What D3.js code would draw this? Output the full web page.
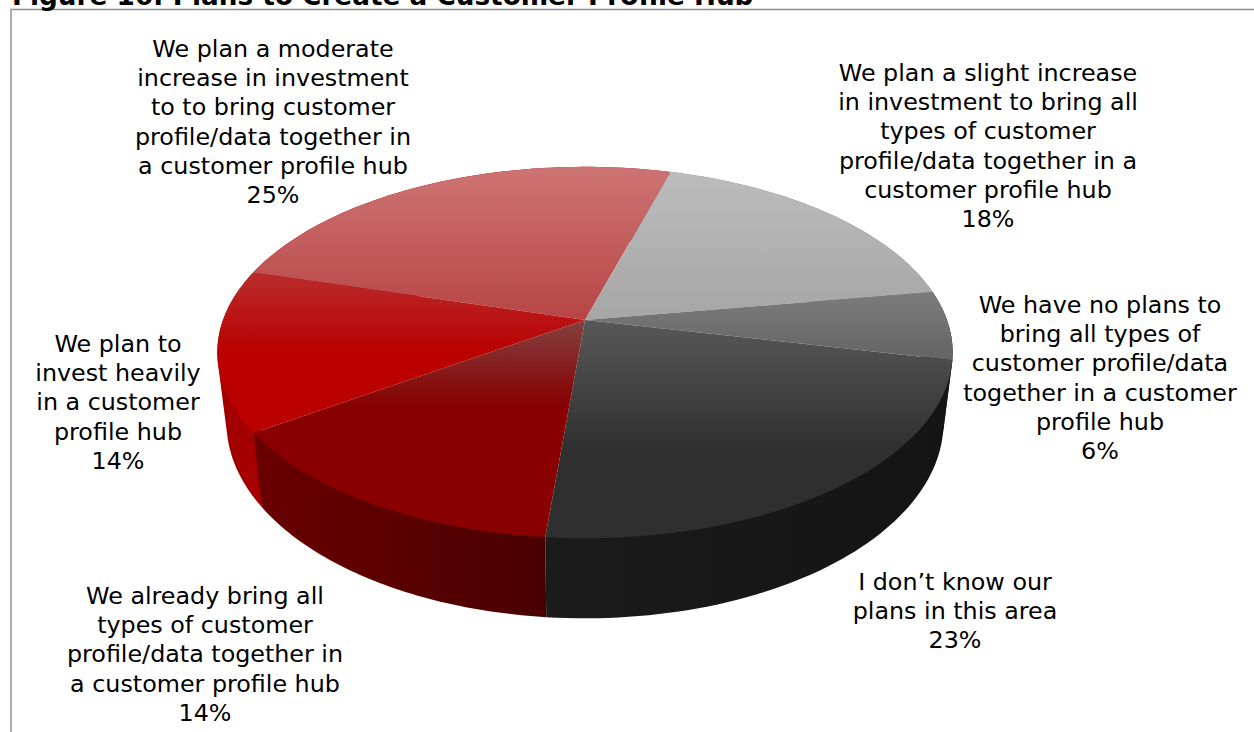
<!DOCTYPE html>
<html>
<head>
<meta charset="utf-8">
<script src="https://cdn.jsdelivr.net/npm/d3@7"></script>
<style>
  html, body { margin: 0; padding: 0; background: #fff; overflow: hidden; }
  text { font-family: "DejaVu Sans", Verdana, sans-serif; fill: #000; }
</style>
</head>
<body>
<svg id="chart" width="1254" height="732"></svg>
<script>
const titleText = "Figure 16: Plans to Create a Customer Profile Hub";
const sliceNames = ["moderate", "slight", "none", "unknown", "already", "heavy"];
const sliceValues = [25, 18, 6, 23, 14, 14];
const sliceLabels = [
  ["We plan a moderate", "increase in investment", "to to bring customer", "profile/data together in", "a customer profile hub", "25%"],
  ["We plan a slight increase", "in investment to bring all", "types of customer", "profile/data together in a", "customer profile hub", "18%"],
  ["We have no plans to", "bring all types of", "customer profile/data", "together in a customer", "profile hub", "6%"],
  ["I don\u2019t know our", "plans in this area", "23%"],
  ["We already bring all", "types of customer", "profile/data together in", "a customer profile hub", "14%"],
  ["We plan to", "invest heavily", "in a customer", "profile hub", "14%"]
];
const labelCentres = [[273, 57], [988, 81], [1100, 313], [955, 590], [205, 604], [118, 352]];
const topColours = [
  [["0%", "#cd7474"], ["100%", "#b84545"]],
  [["0%", "#bcbcbc"], ["100%", "#a6a6a6"]],
  [["0%", "#7c7c7c"], ["100%", "#646464"]],
  [["0%", "#585858"], ["60%", "#2f2f2f"], ["100%", "#2f2f2f"]],
  [["0%", "#844040"], ["40%", "#880000"], ["100%", "#880000"]],
  [["0%", "#b92c2c"], ["50%", "#bb0000"], ["100%", "#bb0000"]]
];
const sideColours = [
  ["#a00000", "#a00000"],
  ["#777777", "#777777"],
  ["#1a1a1a", "#1a1a1a"],
  ["#1b1b1b", "#141414"],
  ["#6a0000", "#4a0000"],
  ["#a00000", "#a80000"]
];

// The disc is a circle seen in perspective: nearer points are pushed outward.
const cx = 585, topCy = 320, baseCy = 388;
const skew = 0.175;
const project = (theta, rx, ry, cy) => {
  const u = Math.sin(theta), v = -Math.cos(theta), w = 1 - skew * v;
  return [cx + rx * u / w, cy + ry * v / w];
};
const onTop = t => project(t, 362, 180, topCy);
const onBase = t => project(t, 353, 190, baseCy);

const startAngle = -74 * Math.PI / 180;
const arcs = d3.pie().sort(null).value(d => d)
  .startAngle(startAngle).endAngle(startAngle + 2 * Math.PI)(sliceValues);

const svg = d3.select("#chart");
const defs = svg.append("defs");
const line = d3.line();
const sampleAngles = (a) => d3.range(0, 61).map(i => a.startAngle + (a.endAngle - a.startAngle) * i / 60);

// Frame: only the top and left edges fall inside the page
svg.append("line").attr("x1", 10).attr("x2", 1254).attr("y1", 9.5).attr("y2", 9.5)
  .attr("stroke", "#8c8c8c").attr("stroke-width", 1.6);
svg.append("line").attr("x1", 11).attr("x2", 11).attr("y1", 9).attr("y2", 732)
  .attr("stroke", "#adadad").attr("stroke-width", 2);
svg.append("text").attr("x", 12).attr("y", 5).attr("font-size", 26.3).attr("font-weight", "bold").text(titleText);

// Gradients for the rim and the top of each slice
arcs.forEach((a, i) => {
  const topGrad = defs.append("linearGradient").attr("id", "top-" + sliceNames[i])
    .attr("x1", 0).attr("y1", 0).attr("x2", 0).attr("y2", 1);
  topColours[i].forEach(([o, c]) => topGrad.append("stop").attr("offset", o).attr("stop-color", c));
  const sideGrad = defs.append("linearGradient").attr("id", "side-" + sliceNames[i])
    .attr("x1", 0).attr("y1", 0).attr("x2", 1).attr("y2", 0);
  sideColours[i].forEach((c, j) => sideGrad.append("stop").attr("offset", j).attr("stop-color", c));
});

// Rim first, each slice as the hull of its top and bottom arcs so the
// silhouette runs straight between the two ellipses; top faces go over it.
const sideOrder = [0, 1, 2, 5, 3, 4];
svg.append("g").selectAll("path").data(sideOrder.map(i => ({ a: arcs[i], i }))).join("path")
  .attr("d", ({ a }) => {
    const ts = sampleAngles(a);
    return line(d3.polygonHull(ts.map(onTop).concat(ts.map(onBase)))) + "Z";
  })
  .attr("fill", ({ i }) => `url(#side-${sliceNames[i]})`);

svg.append("g").selectAll("path").data(arcs).join("path")
  .attr("d", a => line([[cx, topCy]].concat(sampleAngles(a).map(onTop))) + "Z")
  .attr("fill", (a, i) => `url(#top-${sliceNames[i]})`);

// Category labels with their shares
const labels = svg.append("g").attr("text-anchor", "middle").attr("font-size", 23.8);
sliceLabels.forEach((rows, i) => {
  labels.append("text").selectAll("tspan").data(rows).join("tspan")
    .attr("x", labelCentres[i][0])
    .attr("y", (d, j) => labelCentres[i][1] + j * 29.2)
    .text(d => d);
});
</script>
</body>
</html>
